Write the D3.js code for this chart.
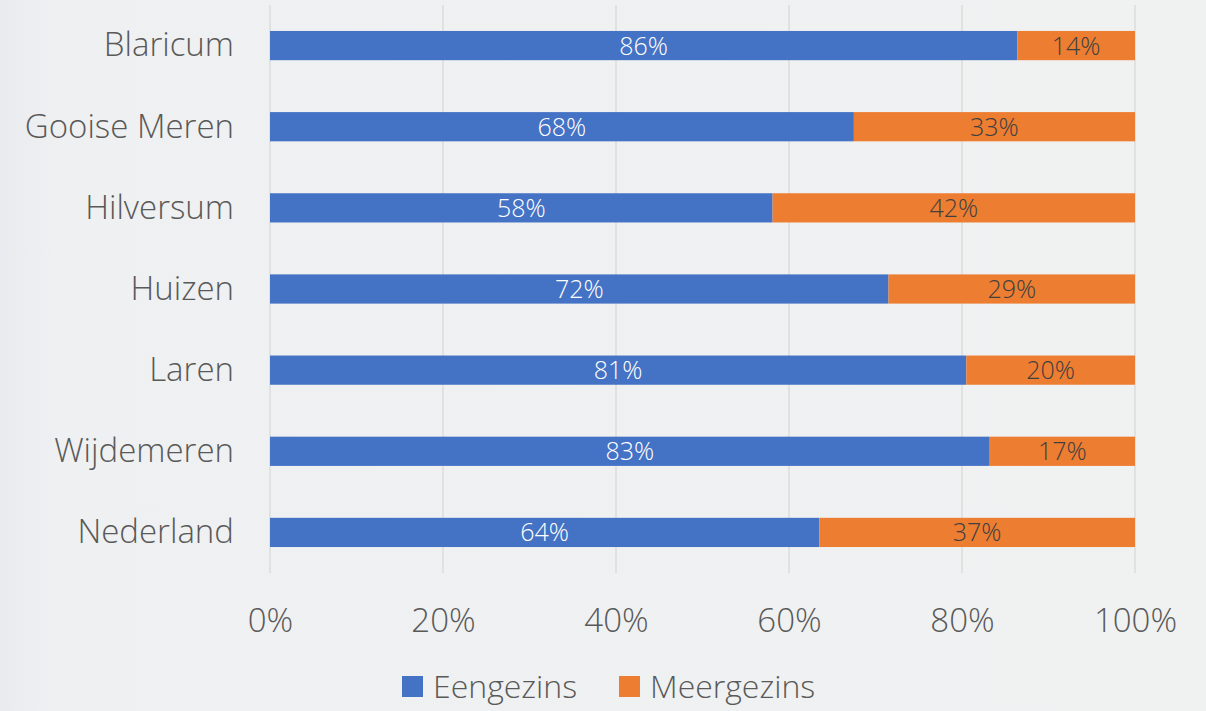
<!DOCTYPE html>
<html>
<head>
<meta charset="utf-8">
<script src="https://cdn.jsdelivr.net/npm/d3@7"></script>
<style>
  html, body { margin: 0; padding: 0; }
  body { width: 1206px; height: 711px; overflow: hidden; background: #eff0f1; }
  text { font-family: "Open Sans", sans-serif; font-weight: 300; }
</style>
</head>
<body>
<script>
const categories = ["Blaricum", "Gooise Meren", "Hilversum", "Huizen", "Laren", "Wijdemeren", "Nederland"];
const eengezins = [86.4, 67.5, 58.1, 71.5, 80.5, 83.2, 63.5];
const meergezins = [13.6, 32.5, 41.9, 28.5, 19.5, 16.8, 36.5];
const seriesNames = ["Eengezins", "Meergezins"];
const seriesColors = ["#4472c4", "#ed7d31"];
const labelColors = ["#ffffff", "#404040"];
const tickValues = [0, 20, 40, 60, 80, 100];

const W = 1206, H = 711;
const svg = d3.select("body").append("svg").attr("width", W).attr("height", H);

// background
const defs = svg.append("defs");
const grad = defs.append("linearGradient").attr("id", "bg").attr("x1", 0).attr("x2", 1).attr("y1", 0).attr("y2", 0);
grad.append("stop").attr("offset", "0%").attr("stop-color", "#e9ebf0");
grad.append("stop").attr("offset", "5%").attr("stop-color", "#eff0f1");
grad.append("stop").attr("offset", "100%").attr("stop-color", "#f0f1f1");
svg.append("rect").attr("width", W).attr("height", H).attr("fill", "url(#bg)");

const margin = { left: 270, right: 71, top: 5, bottom: 138 };
const x = d3.scaleLinear().domain([0, 100]).range([margin.left, W - margin.right]);
const y = d3.scaleBand().domain(categories).range([margin.top, H - margin.bottom]).paddingInner(0.64).paddingOuter(0.32);

// gridlines
svg.append("g").selectAll("line").data(tickValues).join("line")
  .attr("x1", d => x(d)).attr("x2", d => x(d))
  .attr("y1", margin.top).attr("y2", H - margin.bottom)
  .attr("stroke", "#d9d9d9").attr("stroke-width", 1.3);

// stacked data
const rows = categories.map((c, i) => ({ cat: c, Eengezins: eengezins[i], Meergezins: meergezins[i] }));
const stack = d3.stack().keys(seriesNames)(rows);

const groups = svg.append("g").selectAll("g").data(stack).join("g")
  .attr("fill", (d, i) => seriesColors[i]);

groups.selectAll("rect").data(d => d).join("rect")
  .attr("x", d => x(d[0]))
  .attr("width", d => x(d[1]) - x(d[0]))
  .attr("y", d => y(d.data.cat))
  .attr("height", y.bandwidth());

// data labels
svg.append("g").selectAll("g").data(stack).join("g")
  .each(function(s, i) {
    d3.select(this).selectAll("text").data(s).join("text")
      .attr("x", d => (x(d[0]) + x(d[1])) / 2)
      .attr("y", d => y(d.data.cat) + y.bandwidth() / 2)
      .attr("dy", "0.36em")
      .attr("text-anchor", "middle")
      .attr("font-size", 25)
      .attr("fill", labelColors[i])
      .text(d => Math.round(d[1] - d[0]) + "%");
  });

// y axis labels
const yAxis = svg.append("g").attr("transform", `translate(${margin.left - 36},0)`)
  .call(d3.axisLeft(y).tickSize(0).tickPadding(0));
yAxis.select(".domain").remove();
yAxis.selectAll("text").attr("font-size", 33).attr("fill", "#595959")
  .attr("font-family", "Open Sans, sans-serif").attr("dy", "0.33em");

// x axis labels
const xAxis = svg.append("g").attr("transform", `translate(0,${H - margin.bottom})`)
  .call(d3.axisBottom(x).tickValues(tickValues).tickFormat(d => d + "%").tickSize(0).tickPadding(36));
xAxis.select(".domain").remove();
xAxis.selectAll("text").attr("font-size", 33).attr("fill", "#595959")
  .attr("font-family", "Open Sans, sans-serif");

// legend
const legendX = [402, 619];
const legend = svg.append("g").selectAll("g").data(seriesNames).join("g")
  .attr("transform", (d, i) => `translate(${legendX[i]},676)`);
legend.append("rect").attr("width", 21).attr("height", 21).attr("fill", (d, i) => seriesColors[i]);
legend.append("text").attr("x", 31).attr("y", 11).attr("dy", "0.35em")
  .attr("font-size", 32).attr("fill", "#595959").text(d => d);
</script>
</body>
</html>
